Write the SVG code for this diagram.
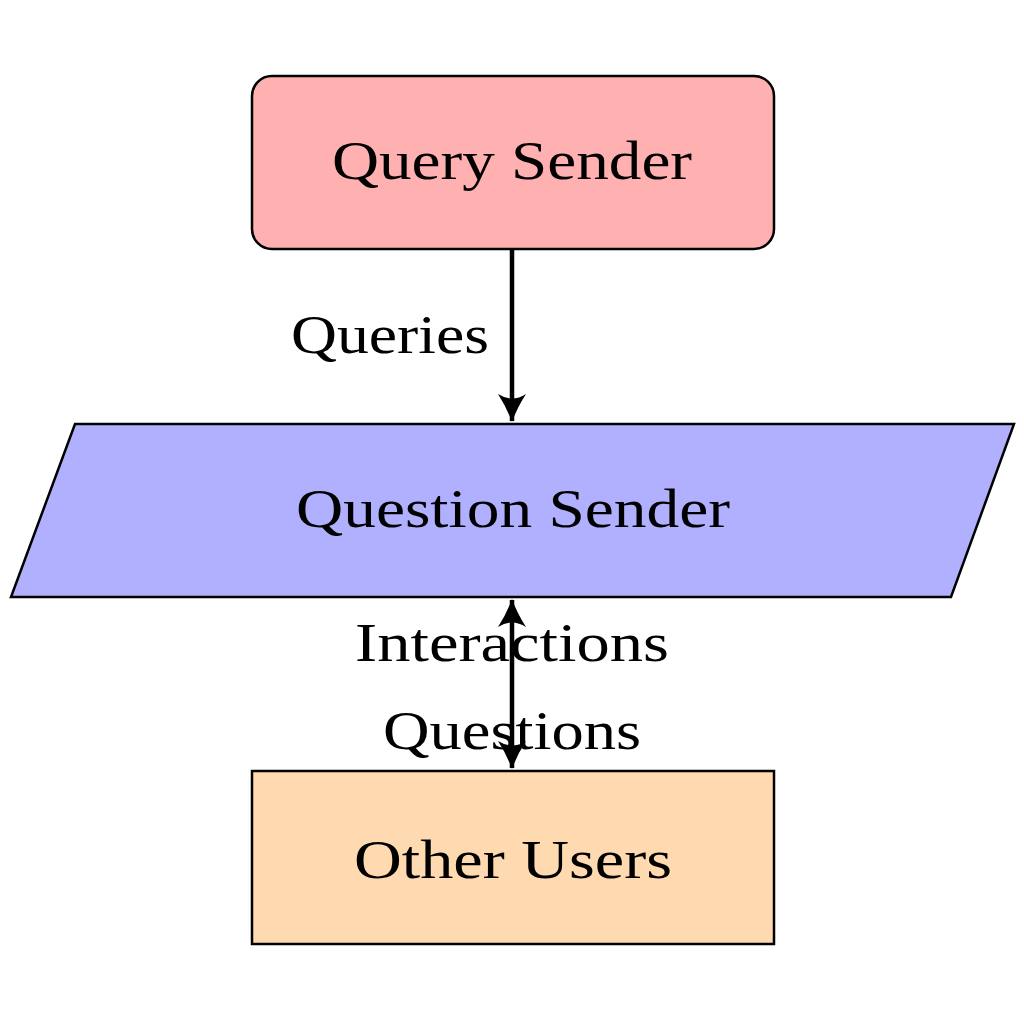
<svg xmlns="http://www.w3.org/2000/svg" width="1024" height="1024" viewBox="0 0 1024 1024">
<style>
.node{stroke:#000;stroke-width:2.5}
.t{font-family:"Liberation Serif","DejaVu Serif",serif;font-size:55px;fill:#000}
.c{stroke:#000;stroke-width:4.5;fill:none}
</style>
<defs>
<marker id="ah" viewBox="0 0 28 28" refX="27" refY="14" markerWidth="28" markerHeight="28" markerUnits="userSpaceOnUse" orient="auto-start-reverse">
<path d="M0,0 Q14,9 28,14 Q14,19 0,28 Q9,14 0,0 Z" fill="#000"/>
</marker>
</defs>
<rect width="1024" height="1024" fill="#fff"/>
<g id="query-sender">
<rect class="node" x="252" y="76" width="522" height="173" rx="20" fill="#ffb0b0"/>
<text class="t" x="512" y="179" text-anchor="middle" textLength="360" lengthAdjust="spacingAndGlyphs">Query Sender</text>
</g>
<g id="question-sender">
<polygon class="node" points="75,424 1014,424 951,597 11,597" fill="#b0b0ff"/>
<text class="t" x="513" y="527" text-anchor="middle" textLength="434" lengthAdjust="spacingAndGlyphs">Question Sender</text>
</g>
<g id="other-users">
<rect class="node" x="252" y="771" width="522" height="173" fill="#ffd9b0"/>
<text class="t" x="513" y="878" text-anchor="middle" textLength="318" lengthAdjust="spacingAndGlyphs">Other Users</text>
</g>
<g id="connectors">
<line class="c" x1="512" y1="249" x2="512" y2="421" marker-end="url(#ah)"/>
<text class="t" x="489" y="353" text-anchor="end" textLength="198" lengthAdjust="spacingAndGlyphs">Queries</text>
<line class="c" x1="512" y1="600" x2="512" y2="768" marker-start="url(#ah)" marker-end="url(#ah)"/>
<text class="t" x="512" y="661" text-anchor="middle" textLength="314" lengthAdjust="spacingAndGlyphs">Interactions</text>
<text class="t" x="512" y="749" text-anchor="middle" textLength="258" lengthAdjust="spacingAndGlyphs">Questions</text>
</g>
</svg>
